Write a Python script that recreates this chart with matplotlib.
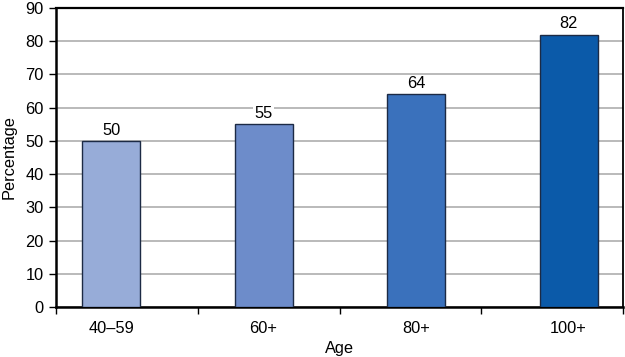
import numpy as np
import matplotlib.pyplot as plt

# Data
ages = ['40\u201359', '60+', '80+', '100+']
percentages = [50, 55, 64, 82]
bar_colors = ['#97acd8', '#6d8cca', '#3a71bc', '#0b5aa9']

plt.rcParams['font.family'] = ['Liberation Sans', 'DejaVu Sans']

fig = plt.figure(figsize=(6.25, 3.57), dpi=100)
ax = fig.add_axes([0.0896, 0.140, 0.9072, 0.8376])

x = np.arange(len(ages))
bars = ax.bar(x, percentages, width=0.38, color=bar_colors,
              edgecolor='#1c2a44', linewidth=1.0, zorder=3)

for xi, v in zip(x, percentages):
    ax.text(xi, v + 1.0, str(v), ha='center', va='bottom', fontsize=11.8,
            bbox=dict(facecolor='white', edgecolor='none', pad=1.0), zorder=4)

# bars sit a little off the category boundaries in the original
xmin, xmax = -0.361, 3.357
ax.set_xlim(xmin, xmax)
ax.set_ylim(0, 90)
ax.set_yticks(np.arange(0, 91, 10))
ax.yaxis.grid(True, color='#b4b4b4', linewidth=1.3, zorder=0)
ax.set_axisbelow(True)

ax.set_xticks(x)
ax.set_xticklabels(ages)
ax.set_xticks(np.linspace(xmin, xmax, len(ages) + 1), minor=True)
ax.tick_params(axis='x', which='major', length=0, pad=10, labelsize=11.8)
ax.tick_params(axis='x', which='minor', length=5, width=1.0, direction='out')
ax.tick_params(axis='y', length=5, width=1.0, labelsize=11.8, pad=4)

ax.spines['left'].set_linewidth(1.8)
ax.spines['bottom'].set_linewidth(1.8)
ax.spines['top'].set_linewidth(1.6)
ax.spines['right'].set_linewidth(1.3)

ax.set_xlabel('Age', fontsize=11.8, labelpad=4)
ax.set_ylabel('Percentage', fontsize=11.8, labelpad=6)

fig.savefig('out.png', dpi=100)
